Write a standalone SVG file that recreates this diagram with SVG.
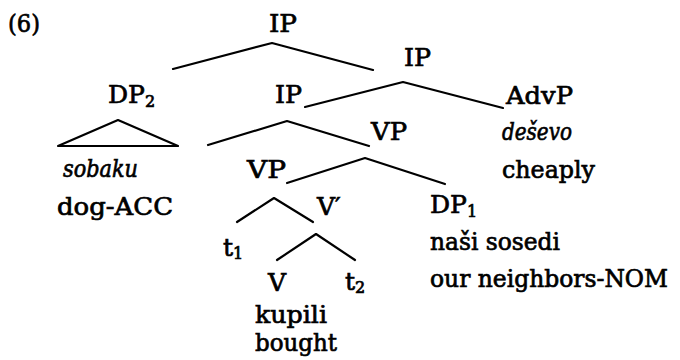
<svg xmlns="http://www.w3.org/2000/svg" width="680" height="360" viewBox="0 0 680 360">
<style>
text{font-family:"DejaVu Serif","Liberation Serif",serif;font-size:25px;fill:#000;stroke:#000;stroke-width:0.7}
.it{font-style:italic}
.sub{font-size:16px}
.e{fill:none;stroke:#000;stroke-width:2.2;stroke-linejoin:round;stroke-linecap:round}
</style>
<rect width="680" height="360" fill="#fff"/>
<g id="connectors">
<polyline class="e" points="173,69 272,43 373,70"/>
<polyline class="e" points="305,107 403,82 503,108"/>
<polygon class="e" points="58,146 118,120 178,146"/>
<polyline class="e" points="208,145 287,121 369,146"/>
<polyline class="e" points="287,183 365,158 445,184"/>
<polyline class="e" points="237,222 274,198 313,222"/>
<polyline class="e" points="277,260 316,234 355,260"/>
</g>
<g id="label"><text x="8" y="32" textLength="32" lengthAdjust="spacingAndGlyphs">(6)</text></g>
<g id="ip-top"><text x="269" y="32" textLength="28" lengthAdjust="spacingAndGlyphs">IP</text></g>
<g id="ip-right"><text x="404" y="66" textLength="27" lengthAdjust="spacingAndGlyphs">IP</text></g>
<g id="dp2"><text x="108" y="103">DP<tspan class="sub" dy="4">2</tspan></text></g>
<g id="ip-mid"><text x="275" y="103" textLength="27" lengthAdjust="spacingAndGlyphs">IP</text></g>
<g id="advp"><text x="506" y="104" textLength="67" lengthAdjust="spacingAndGlyphs">AdvP</text><text class="it" x="502" y="140" textLength="70" lengthAdjust="spacingAndGlyphs">deševo</text><text x="502" y="178" textLength="93" lengthAdjust="spacingAndGlyphs">cheaply</text></g>
<g id="vp-right"><text x="371" y="140" textLength="36" lengthAdjust="spacingAndGlyphs">VP</text></g>
<g id="dp2-leaf"><text class="it" x="63" y="177" textLength="75" lengthAdjust="spacingAndGlyphs">sobaku</text><text x="57" y="215" textLength="116" lengthAdjust="spacingAndGlyphs">dog-ACC</text></g>
<g id="vp-low"><text x="247" y="178" textLength="39" lengthAdjust="spacingAndGlyphs">VP</text></g>
<g id="vbar"><text x="317" y="215">V′</text></g>
<g id="dp1"><text x="430" y="213">DP<tspan class="sub" dy="4">1</tspan></text><text x="430" y="250" textLength="130" lengthAdjust="spacingAndGlyphs">naši sosedi</text><text x="430" y="287" style="font-size:24px" textLength="238" lengthAdjust="spacingAndGlyphs">our neighbors-NOM</text></g>
<g id="t1"><text x="223" y="256">t<tspan class="sub" dy="3">1</tspan></text></g>
<g id="v"><text x="268" y="291">V</text><text x="255" y="323" textLength="72" lengthAdjust="spacingAndGlyphs">kupili</text><text x="255" y="351" textLength="82" lengthAdjust="spacingAndGlyphs">bought</text></g>
<g id="t2"><text x="345" y="290">t<tspan class="sub" dy="3">2</tspan></text></g>
</svg>
